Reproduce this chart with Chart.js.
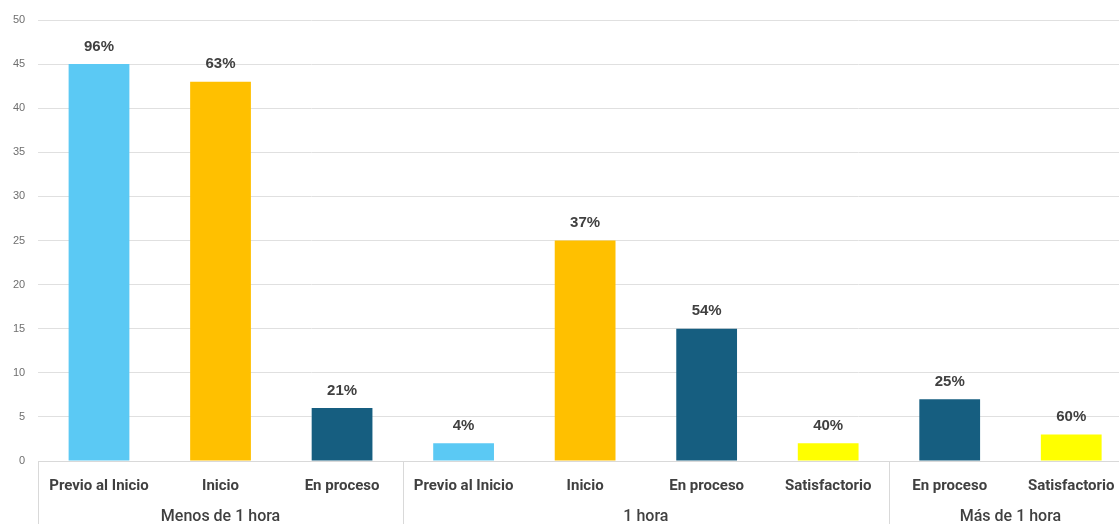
<!DOCTYPE html>
<html>
<head>
<meta charset="utf-8">
<script src="https://cdn.jsdelivr.net/npm/chart.js@4"></script>
<style>
  html, body { margin: 0; padding: 0; background: #fff; overflow: hidden; }
  #wrap { position: relative; width: 1132px; height: 524px; }
</style>
</head>
<body>
<div id="wrap"><canvas id="chart"></canvas></div>
<script>
const categories = ['Previo al Inicio', 'Inicio', 'En proceso', 'Previo al Inicio', 'Inicio', 'En proceso', 'Satisfactorio', 'En proceso', 'Satisfactorio'];
const values = [45, 43, 6, 2, 25, 15, 2, 7, 3];
const percentLabels = ['96%', '63%', '21%', '4%', '37%', '54%', '40%', '25%', '60%'];
const groups = ['Menos de 1 hora', '1 hora', 'Más de 1 hora'];
const groupSizes = [3, 4, 2];

const levelColors = {
  'Previo al Inicio': '#5BC9F4',
  'Inicio': '#FFC000',
  'En proceso': '#165E80',
  'Satisfactorio': '#FFFF00'
};

const labelFont = 'Roboto, "Liberation Sans", sans-serif';

// percent text above each bar
const barLabels = {
  id: 'barLabels',
  afterDatasetsDraw(chart) {
    const ctx = chart.ctx;
    const meta = chart.getDatasetMeta(0);
    ctx.save();
    ctx.font = 'bold 15px Arial, "Liberation Sans", sans-serif';
    ctx.fillStyle = '#404040';
    ctx.textAlign = 'center';
    ctx.textBaseline = 'bottom';
    meta.data.forEach((bar, i) => {
      ctx.fillText(percentLabels[i], bar.x, bar.y - 10);
    });
    ctx.restore();
  }
};

// group labels and divider lines under the category labels
const groupAxis = {
  id: 'groupAxis',
  afterDraw(chart) {
    const ctx = chart.ctx;
    const x = chart.scales.x;
    const top = chart.chartArea.bottom;
    const bottom = chart.height;
    const half = (x.getPixelForValue(1) - x.getPixelForValue(0)) / 2;
    ctx.save();
    ctx.strokeStyle = '#d9d9d9';
    ctx.lineWidth = 1;
    ctx.fillStyle = '#404040';
    ctx.font = '500 16px ' + labelFont;
    ctx.textAlign = 'center';
    ctx.textBaseline = 'middle';
    let start = 0;
    groups.forEach((g, gi) => {
      const end = start + groupSizes[gi] - 1;
      const left = Math.round(x.getPixelForValue(start) - half) + 0.5;
      ctx.beginPath();
      ctx.moveTo(left, top);
      ctx.lineTo(left, bottom);
      ctx.stroke();
      const mid = (x.getPixelForValue(start) + x.getPixelForValue(end)) / 2;
      ctx.fillText(g, mid, bottom - 7);
      start = end + 1;
    });
    ctx.restore();
  }
};

new Chart(document.getElementById('chart'), {
  type: 'bar',
  data: {
    labels: categories,
    datasets: [{
      data: values,
      backgroundColor: categories.map(c => levelColors[c]),
      categoryPercentage: 1,
      barPercentage: 0.5
    }]
  },
  options: {
    responsive: true,
    maintainAspectRatio: false,
    animation: false,
    layout: { padding: { left: 0, right: 0, top: 20, bottom: 21 } },
    plugins: {
      legend: { display: false },
      tooltip: { enabled: false }
    },
    scales: {
      x: {
        grid: { display: false },
        border: { color: '#d9d9d9' },
        ticks: {
          color: '#404040',
          padding: 8,
          maxRotation: 0,
          autoSkip: false,
          font: { family: labelFont, size: 15, weight: 'bold' }
        }
      },
      y: {
        min: 0,
        max: 50,
        grid: { color: '#e0e0e0', drawTicks: false },
        border: { display: false },
        ticks: {
          stepSize: 5,
          color: '#6f6f6f',
          padding: 13,
          font: { family: 'Arial, sans-serif', size: 11 }
        }
      }
    }
  },
  plugins: [barLabels, groupAxis]
});
</script>
</body>
</html>
